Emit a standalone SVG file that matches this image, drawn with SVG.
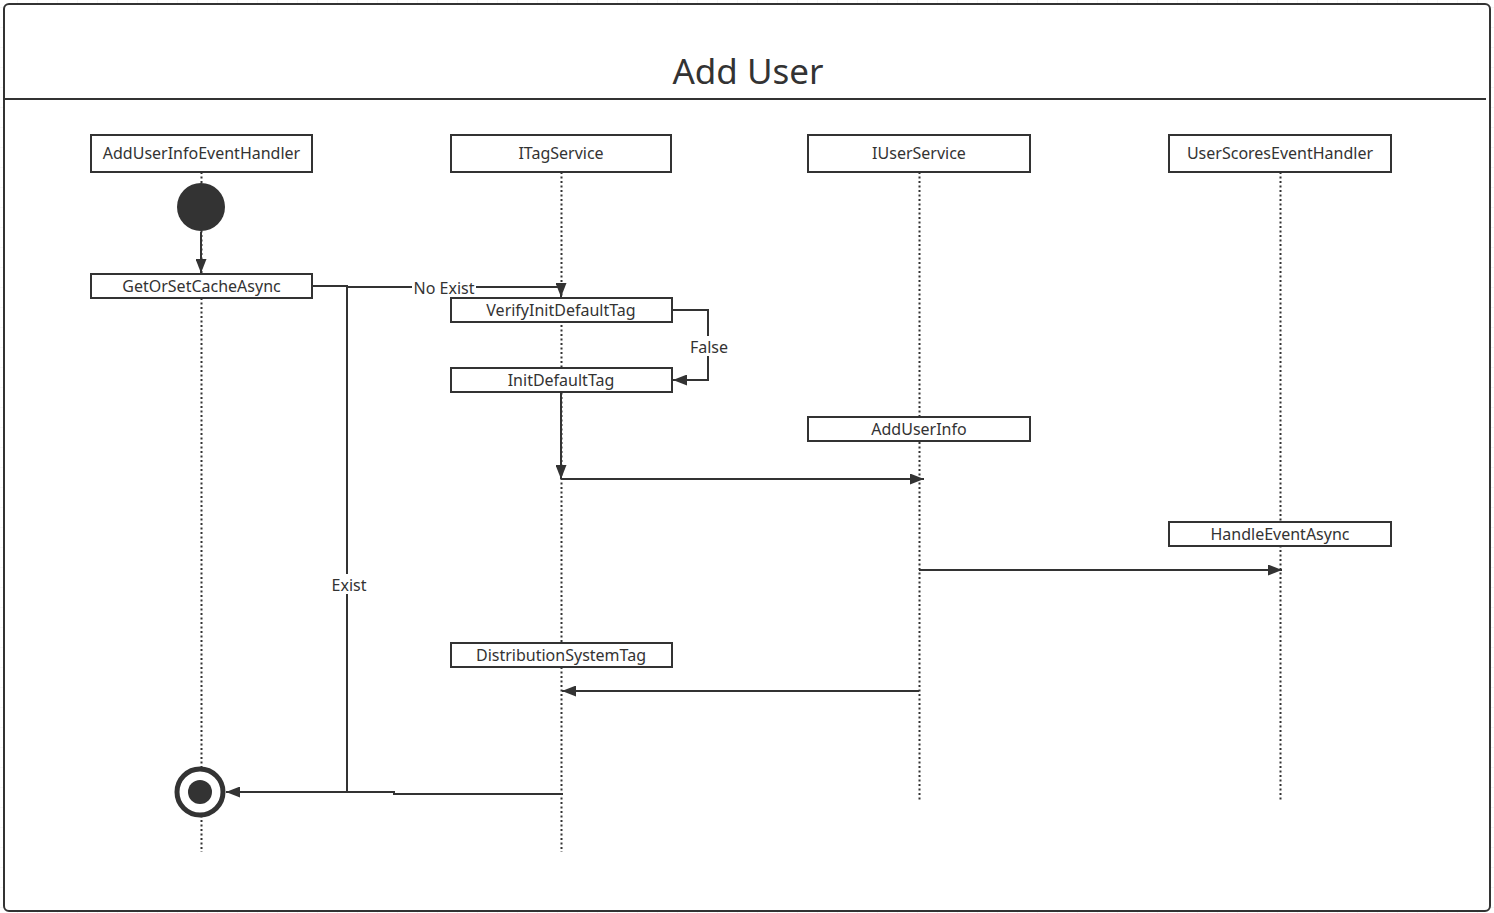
<svg xmlns="http://www.w3.org/2000/svg" width="1494" height="913" viewBox="0 0 1494 913">
<defs>
<pattern id="grid" width="20" height="20" patternUnits="userSpaceOnUse" x="-2" y="-12">
<path d="M20 0 V20 M0 20 H20" fill="none" stroke="#ececec" stroke-width="1"/>
</pattern>
<marker id="arr" viewBox="0 0 14 11" refX="14" refY="5.5" markerWidth="14" markerHeight="11" markerUnits="userSpaceOnUse" orient="auto">
<path d="M0 0 L14 5.5 L0 11 Z" fill="#333"/>
</marker>
<style>
.box{fill:#fff;stroke:#333;stroke-width:2}
.lbl{font-family:"Noto Sans","Open Sans","DejaVu Sans",sans-serif;font-size:16px;fill:#333;text-anchor:middle}
.life{fill:none;stroke:#333;stroke-width:2;stroke-dasharray:2 2.5}
.ln{fill:none;stroke:#333;stroke-width:2}
</style>
</defs>
<rect width="1494" height="913" fill="#fff"/>
<rect width="1494" height="913" fill="url(#grid)"/>
<g id="frame">
<rect x="4" y="4" width="1486" height="907" rx="5" fill="#fff" stroke="#333" stroke-width="2"/>
<line x1="4" y1="99" x2="1486" y2="99" stroke="#333" stroke-width="2"/>
<text x="748" y="84" style="font-family:'Noto Sans','Open Sans',sans-serif;font-size:35px;fill:#333;text-anchor:middle">Add User</text>
</g>
<g id="lifelines">
<line class="life" x1="201.5" y1="172" x2="201.5" y2="852"/>
<line class="life" x1="561.5" y1="172" x2="561.5" y2="852"/>
<line class="life" x1="919.5" y1="172" x2="919.5" y2="800"/>
<line class="life" x1="1280.5" y1="172" x2="1280.5" y2="800"/>
</g>
<g id="connectors">
<line class="ln" x1="201" y1="232" x2="201" y2="273" marker-end="url(#arr)"/>
<path class="ln" d="M312 286 H347 V287 H561 V297" marker-end="url(#arr)"/>
<path class="ln" d="M347 287 V792"/>
<path class="ln" d="M672 310 H708 V380 H673" marker-end="url(#arr)"/>
<line class="ln" x1="561" y1="392" x2="561" y2="479" marker-end="url(#arr)"/>
<line class="ln" x1="561" y1="479" x2="924" y2="479" marker-end="url(#arr)"/>
<line class="ln" x1="919" y1="570" x2="1282" y2="570" marker-end="url(#arr)"/>
<line class="ln" x1="919" y1="691" x2="562" y2="691" marker-end="url(#arr)"/>
<path class="ln" d="M563 794 H394 V792 H226" marker-end="url(#arr)"/>
<rect x="412" y="278" width="64" height="20" fill="#fff"/>
<text class="lbl" x="444" y="294">No Exist</text>
<rect x="688" y="336" width="42" height="20" fill="#fff"/>
<text class="lbl" x="709" y="353">False</text>
<rect x="329" y="574" width="38" height="20" fill="#fff"/>
<text class="lbl" x="349" y="591">Exist</text>
</g>
<g id="n-handler"><rect class="box" x="91" y="135" width="221" height="37"/><text class="lbl" x="201.5" y="159">AddUserInfoEventHandler</text></g>
<g id="n-itag"><rect class="box" x="451" y="135" width="220" height="37"/><text class="lbl" x="561" y="159">ITagService</text></g>
<g id="n-iuser"><rect class="box" x="808" y="135" width="222" height="37"/><text class="lbl" x="919" y="159">IUserService</text></g>
<g id="n-scores"><rect class="box" x="1169" y="135" width="222" height="37"/><text class="lbl" x="1280" y="159">UserScoresEventHandler</text></g>
<g id="n-start"><circle cx="201" cy="207" r="24" fill="#333"/></g>
<g id="n-getorset"><rect class="box" x="91" y="274" width="221" height="24"/><text class="lbl" x="201.5" y="292">GetOrSetCacheAsync</text></g>
<g id="n-verify"><rect class="box" x="451" y="298" width="221" height="24"/><text class="lbl" x="561" y="316">VerifyInitDefaultTag</text></g>
<g id="n-init"><rect class="box" x="451" y="368" width="221" height="24"/><text class="lbl" x="561" y="386">InitDefaultTag</text></g>
<g id="n-adduserinfo"><rect class="box" x="808" y="417" width="222" height="24"/><text class="lbl" x="919" y="435">AddUserInfo</text></g>
<g id="n-handleevent"><rect class="box" x="1169" y="522" width="222" height="24"/><text class="lbl" x="1280" y="540">HandleEventAsync</text></g>
<g id="n-distribution"><rect class="box" x="451" y="643" width="221" height="24"/><text class="lbl" x="561" y="661">DistributionSystemTag</text></g>
<g id="n-end"><circle cx="200" cy="792" r="23" fill="#fff" stroke="#333" stroke-width="5"/><circle cx="200" cy="792" r="12" fill="#333"/></g>
</svg>
